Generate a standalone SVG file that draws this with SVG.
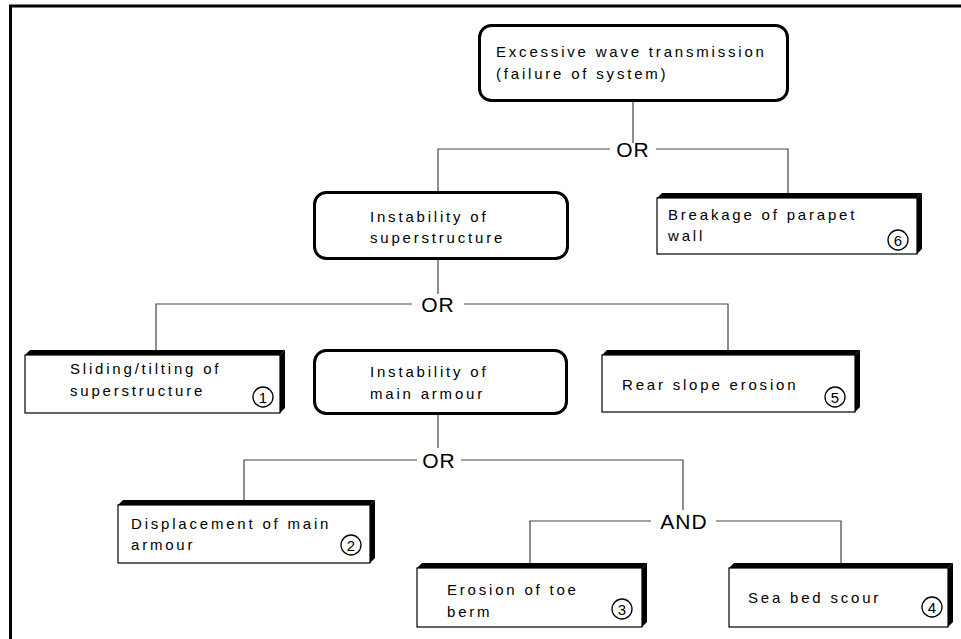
<svg xmlns="http://www.w3.org/2000/svg" width="961" height="639" viewBox="0 0 961 639">
<style>
.t{font-family:"Liberation Sans",Arial,sans-serif;font-size:15px;letter-spacing:2.8px;fill:#000}
.g{font-family:"Liberation Sans",Arial,sans-serif;font-size:21px;letter-spacing:1px;fill:#000;text-anchor:middle}
.n{font-family:"Liberation Sans",Arial,sans-serif;font-size:15px;fill:#000;text-anchor:middle}
.rb{fill:#fff;stroke:#000;stroke-width:3}
.fr{fill:#fff;stroke:#000;stroke-width:1.2}
.sh{fill:#000}
.c{fill:none;stroke:#000;stroke-width:1.3}
.ln{fill:none;stroke:#444;stroke-width:1.2}
</style>
<rect width="961" height="639" fill="#fff"/>
<path d="M10.5,639 V6 H961" fill="none" stroke="#000" stroke-width="3"/>
<g id="connectors">
<path class="ln" d="M633,100 V143"/>
<path class="ln" d="M438,192 V149 H610 M656,149 H788 V194"/>
<path class="ln" d="M438,258 V294"/>
<path class="ln" d="M156,351 V304 H412 M464,304 H728 V351"/>
<path class="ln" d="M438,413 V448"/>
<path class="ln" d="M244,501 V460 H417 M461,460 H683 V510"/>
<path class="ln" d="M530,564 V521 H651 M716,521 H841 V564"/>
</g>
<g id="g1"><text class="g" x="633" y="157">OR</text></g>
<g id="g2"><text class="g" x="438" y="312">OR</text></g>
<g id="g3"><text class="g" x="439" y="468">OR</text></g>
<g id="g4"><text class="g" x="684" y="529">AND</text></g>
<g id="top">
<rect class="rb" x="479.5" y="25.5" width="308" height="75" rx="12"/>
<text class="t" x="496" y="57">Excessive wave transmission</text>
<text class="t" x="496" y="79">(failure of system)</text>
</g>
<g id="superstructure">
<rect class="rb" x="314.5" y="192.5" width="253" height="66" rx="12"/>
<text class="t" x="370" y="222">Instability of</text>
<text class="t" x="370" y="243">superstructure</text>
</g>
<g id="parapet">
<rect class="fr" x="657" y="198" width="260" height="56"/>
<polygon class="sh" points="657,198 662,193 922,193 917,198"/>
<polygon class="sh" points="917,198 922,193 922,249 917,254"/>
<text class="t" x="668" y="220">Breakage of parapet</text>
<text class="t" x="668" y="241">wall</text>
<circle class="c" cx="898" cy="240" r="10"/>
<text class="n" x="898" y="245.5">6</text>
</g>
<g id="sliding">
<rect class="fr" x="25" y="355" width="255" height="58"/>
<polygon class="sh" points="25,355 30,350 285,350 280,355"/>
<polygon class="sh" points="280,355 285,350 285,408 280,413"/>
<text class="t" x="70" y="374">Sliding/tilting of</text>
<text class="t" x="70" y="396">superstructure</text>
<circle class="c" cx="263" cy="397" r="10"/>
<text class="n" x="263" y="402.5">1</text>
</g>
<g id="mainarmour">
<rect class="rb" x="314.5" y="350.5" width="252" height="63" rx="12"/>
<text class="t" x="370" y="377">Instability of</text>
<text class="t" x="370" y="399">main armour</text>
</g>
<g id="rear">
<rect class="fr" x="602" y="355" width="253" height="57"/>
<polygon class="sh" points="602,355 607,350 860,350 855,355"/>
<polygon class="sh" points="855,355 860,350 860,407 855,412"/>
<text class="t" x="622" y="390">Rear slope erosion</text>
<circle class="c" cx="835" cy="397" r="10"/>
<text class="n" x="835" y="402.5">5</text>
</g>
<g id="displacement">
<rect class="fr" x="118" y="505" width="252" height="58"/>
<polygon class="sh" points="118,505 123,500 375,500 370,505"/>
<polygon class="sh" points="370,505 375,500 375,558 370,563"/>
<text class="t" x="131" y="529">Displacement of main</text>
<text class="t" x="131" y="550">armour</text>
<circle class="c" cx="351" cy="545" r="10"/>
<text class="n" x="351" y="550.5">2</text>
</g>
<g id="toe">
<rect class="fr" x="417" y="568" width="225" height="59"/>
<polygon class="sh" points="417,568 422,563 647,563 642,568"/>
<polygon class="sh" points="642,568 647,563 647,622 642,627"/>
<text class="t" x="447" y="595">Erosion of toe</text>
<text class="t" x="447" y="617">berm</text>
<circle class="c" cx="622" cy="609" r="10"/>
<text class="n" x="622" y="614.5">3</text>
</g>
<g id="scour">
<rect class="fr" x="729" y="568" width="219" height="59"/>
<polygon class="sh" points="729,568 734,563 953,563 948,568"/>
<polygon class="sh" points="948,568 953,563 953,622 948,627"/>
<text class="t" x="748" y="603">Sea bed scour</text>
<circle class="c" cx="932" cy="607" r="10"/>
<text class="n" x="932" y="612.5">4</text>
</g>
</svg>
